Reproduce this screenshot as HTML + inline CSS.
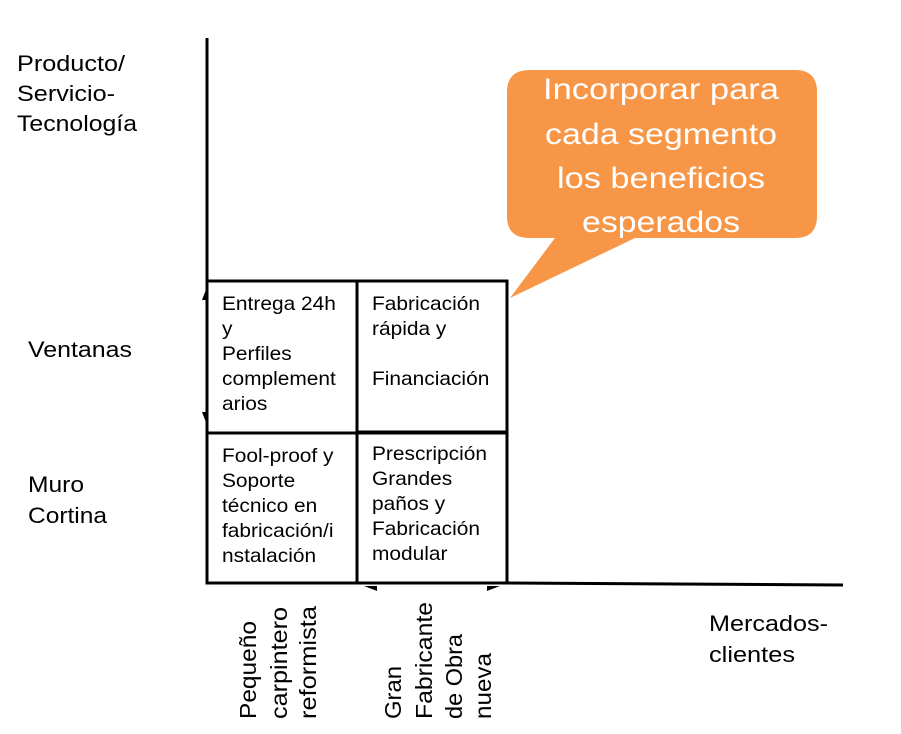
<!DOCTYPE html>
<html><head><meta charset="utf-8"><style>
html,body{margin:0;padding:0;background:#fff;}
svg{display:block;}
text{font-family:"Liberation Sans",Arial,sans-serif;fill:#000;}
</style></head><body>
<svg width="901" height="734" viewBox="0 0 901 734" xmlns="http://www.w3.org/2000/svg">
<line x1="207" y1="38" x2="207" y2="583" stroke="#000" stroke-width="3"/>
<line x1="507" y1="583" x2="843" y2="585" stroke="#000" stroke-width="3"/>
<line x1="207" y1="281" x2="357" y2="281" stroke="#000" stroke-width="3" stroke-dasharray="9,4"/>
<rect x="357" y="281" width="150" height="151" fill="none" stroke="#000" stroke-width="3"/>
<rect x="207" y="281" width="150" height="302" fill="none" stroke="#000" stroke-width="3"/>
<line x1="207" y1="433" x2="507" y2="433" stroke="#000" stroke-width="3"/>
<rect x="357" y="432" width="150" height="151" fill="none" stroke="#000" stroke-width="3"/>
<polygon points="202,300 207,287 208,300" fill="#000"/>
<polygon points="202,412 208,412 207,425" fill="#000"/>
<polygon points="364,586 377,586 377,591" fill="#000"/>
<polygon points="487,591 487,586 500,586" fill="#000"/>
<path d="M530,70 H795 Q817,70 817,92 V216 Q817,238 795,238 H635 L510,298 L555,238 H529 Q507,238 507,216 V92 Q507,70 530,70 Z" fill="#F79646"/>
<g style="font-size:30px" text-anchor="middle">
<text x="661" y="99" style="fill:#fff" textLength="236" lengthAdjust="spacingAndGlyphs">Incorporar para</text>
<text x="661" y="144" style="fill:#fff" textLength="232" lengthAdjust="spacingAndGlyphs">cada segmento</text>
<text x="661" y="188" style="fill:#fff" textLength="208" lengthAdjust="spacingAndGlyphs">los beneficios</text>
<text x="661" y="232" style="fill:#fff" textLength="158" lengthAdjust="spacingAndGlyphs">esperados</text>
</g>
<g style="font-size:22px">
<text x="17" y="71" textLength="108" lengthAdjust="spacingAndGlyphs">Producto/</text>
<text x="17" y="101" textLength="98" lengthAdjust="spacingAndGlyphs">Servicio-</text>
<text x="17" y="131" textLength="120" lengthAdjust="spacingAndGlyphs">Tecnología</text>
<text x="28" y="357" textLength="104" lengthAdjust="spacingAndGlyphs">Ventanas</text>
<text x="28" y="492" textLength="56" lengthAdjust="spacingAndGlyphs">Muro</text>
<text x="28" y="523" textLength="79" lengthAdjust="spacingAndGlyphs">Cortina</text>
<text x="709" y="631" textLength="119" lengthAdjust="spacingAndGlyphs">Mercados-</text>
<text x="709" y="662" textLength="86" lengthAdjust="spacingAndGlyphs">clientes</text>
</g>
<g style="font-size:19px" transform="translate(222,0) scale(1.1,1)">
<text x="0" y="310">Entrega 24h</text>
<text x="0" y="335">y</text>
<text x="0" y="360">Perfiles</text>
<text x="0" y="385">complement</text>
<text x="0" y="410">arios</text>
<text x="0" y="462">Fool-proof y</text>
<text x="0" y="487">Soporte</text>
<text x="0" y="512">técnico en</text>
<text x="0" y="537">fabricación/i</text>
<text x="0" y="562">nstalación</text>
</g>
<g style="font-size:19px" transform="translate(372,0) scale(1.1,1)">
<text x="0" y="310">Fabricación</text>
<text x="0" y="335">rápida y</text>
<text x="0" y="385">Financiación</text>
<text x="0" y="460">Prescripción</text>
<text x="0" y="485">Grandes</text>
<text x="0" y="510">paños y</text>
<text x="0" y="535">Fabricación</text>
<text x="0" y="560">modular</text>
</g>
<g style="font-size:23px">
<text transform="translate(256,719) rotate(-90)" textLength="98" lengthAdjust="spacingAndGlyphs">Pequeño</text>
<text transform="translate(287,719) rotate(-90)" textLength="112" lengthAdjust="spacingAndGlyphs">carpintero</text>
<text transform="translate(316,719) rotate(-90)" textLength="113" lengthAdjust="spacingAndGlyphs">reformista</text>
<text transform="translate(401,719) rotate(-90)" textLength="53" lengthAdjust="spacingAndGlyphs">Gran</text>
<text transform="translate(432,719) rotate(-90)" textLength="117" lengthAdjust="spacingAndGlyphs">Fabricante</text>
<text transform="translate(462,719) rotate(-90)" textLength="85" lengthAdjust="spacingAndGlyphs">de Obra</text>
<text transform="translate(491,719) rotate(-90)" textLength="66" lengthAdjust="spacingAndGlyphs">nueva</text>
</g>
</svg>
</body></html>
